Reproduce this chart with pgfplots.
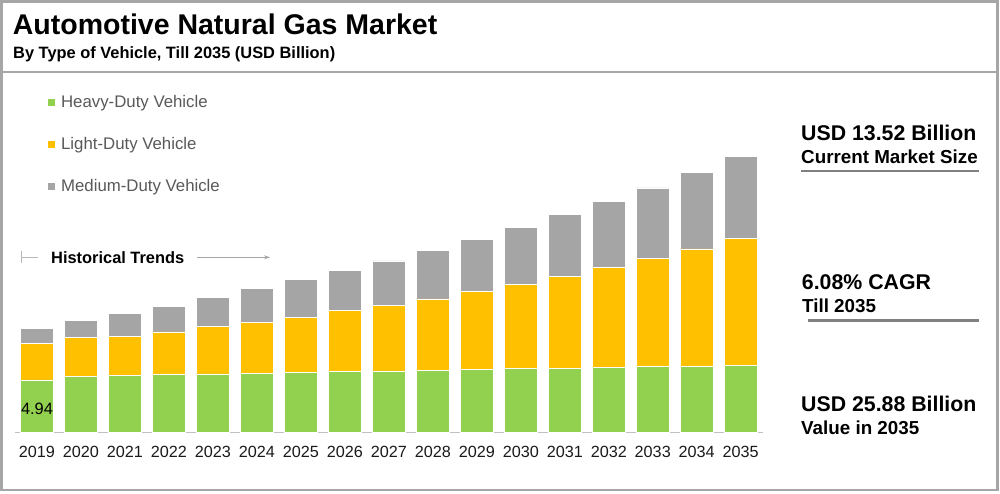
\documentclass[border=0pt]{standalone}
\usepackage{pgfplots}
\pgfplotsset{compat=1.18}
\usepackage{pgfplotstable}
\usepackage{fontspec}
\setmainfont{Liberation Sans}
\usetikzlibrary{arrows.meta}

\definecolor{hdv}{HTML}{92D050}
\definecolor{ldv}{HTML}{FFC000}
\definecolor{mdv}{HTML}{A5A5A5}
\definecolor{framegray}{HTML}{A6A6A6}
\definecolor{rulegray}{HTML}{808080}
\definecolor{legtext}{HTML}{595959}
\definecolor{ticktext}{HTML}{1A1A1A}

% market by vehicle type, USD billion
\pgfplotstableread{
idx heavy light medium
0  4.94  3.44 1.43
1  5.28  3.66 1.56
2  5.34  3.69 2.16
3  5.43  4.01 2.41
4  5.51  4.42 2.76
5  5.59  4.76 3.17
6  5.66  5.18 3.50
7  5.72  5.73 3.73
8  5.79  6.15 4.15
9  5.86  6.67 4.59
10 5.92  7.29 4.88
11 5.98  7.89 5.38
12 6.04  8.62 5.77
13 6.10  9.40 6.19
14 6.17 10.14 6.62
15 6.23 10.99 7.15
16 6.27 11.95 7.66
}\market

\begin{document}
\begin{tikzpicture}
\path[use as bounding box] (0pt,0pt) rectangle (1000pt,493pt);

\begin{axis}[
  at={(15pt,60.3pt)}, anchor=south west,
  scale only axis, width=747.7pt, height=282.8pt,
  ybar stacked, bar width=33pt,
  xmin=-0.5, xmax=16.5, ymin=0, ymax=26.5,
  axis y line=none, axis x line*=bottom,
  x axis line style={draw=framegray!70, line width=1.2pt},
  xtick={0,...,16},
  xticklabels={2019,2020,2021,2022,2023,2024,2025,2026,2027,2028,2029,2030,2031,2032,2033,2034,2035},
  major tick length=0pt,
  xticklabel style={font=\fontsize{16.2}{18}\selectfont, text=ticktext, yshift=-10pt},
  clip=false,
  every axis plot/.append style={draw=white, line width=0.8pt},
  legend image code/.code={\fill[#1, draw=none] (0pt,-3.5pt) rectangle (7pt,3.5pt);},
  legend cell align=left,
  legend style={at={(rel axis cs:0.044,1.192)}, anchor=north west, draw=none, fill=none,
    inner sep=0pt, row sep=28.3pt, column sep=6pt,
    nodes={inner sep=0pt, text=legtext, font=\fontsize{16.8}{19}\selectfont}},
]
\addplot[fill=hdv] table[x=idx, y=heavy] {\market};
\addplot[fill=ldv] table[x=idx, y=light] {\market};
\addplot[fill=mdv] table[x=idx, y=medium] {\market};
\legend{Heavy-Duty Vehicle, Light-Duty Vehicle, Medium-Duty Vehicle}
\end{axis}

\begin{scope}[x=1pt, y=1pt]
% data label on the 2019 heavy-duty bar
\node[anchor=base, inner sep=0pt, font=\fontsize{16.4}{18}\selectfont, text=black] at (37,79) {4.94};
% frame
\draw[framegray, line width=2.5pt] (1.5,3) rectangle (997.5,491.5);
\draw[framegray, line width=2.5pt] (1.5,421) -- (997.5,421);
% title
\node[anchor=base west, inner sep=0pt, font=\bfseries\fontsize{28.5}{30}\selectfont] at (12.7,458) {Automotive Natural Gas Market};
\node[anchor=base west, inner sep=0pt, font=\bfseries\fontsize{16.4}{18}\selectfont] at (13,434.7) {By Type of Vehicle, Till 2035 (USD Billion)};
% historical trends
\draw[framegray!80, line width=0.8pt] (21,230) -- (21,241.5);
\draw[framegray!80, line width=0.8pt] (21,235.7) -- (37.7,235.7);
\node[anchor=base west, inner sep=0pt, font=\bfseries\fontsize{16.4}{18}\selectfont] at (51,229.8) {Historical Trends};
\draw[framegray, line width=0.8pt, -{Stealth[length=6pt,width=4pt]}] (197,235.7) -- (270,235.7);
% right panel
\node[anchor=base west, inner sep=0pt, font=\bfseries\fontsize{21.3}{24}\selectfont] at (801,352.7) {USD 13.52 Billion};
\node[anchor=base west, inner sep=0pt, font=\bfseries\fontsize{18.8}{21}\selectfont] at (801,329.9) {Current Market Size};
\draw[rulegray, line width=2.5pt] (801,322) -- (979,322);
\node[anchor=base west, inner sep=0pt, font=\bfseries\fontsize{21.3}{24}\selectfont] at (801.7,203.7) {6.08\%\hspace{6pt}CAGR};
\node[anchor=base west, inner sep=0pt, font=\bfseries\fontsize{18.8}{21}\selectfont] at (802,180.5) {Till 2035};
\draw[rulegray, line width=2.5pt] (808,172.7) -- (979,172.7);
\node[anchor=base west, inner sep=0pt, font=\bfseries\fontsize{21.3}{24}\selectfont] at (801,82) {USD 25.88 Billion};
\node[anchor=base west, inner sep=0pt, font=\bfseries\fontsize{18.8}{21}\selectfont] at (801,58.3) {Value in 2035};
\end{scope}
\end{tikzpicture}
\end{document}
